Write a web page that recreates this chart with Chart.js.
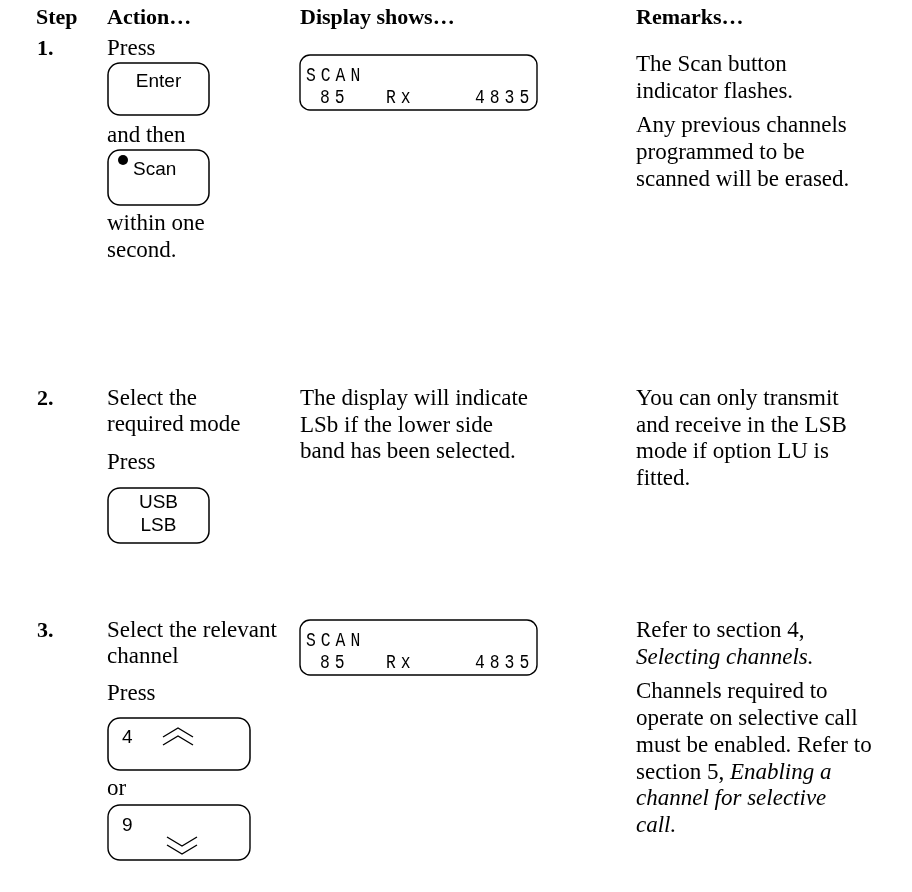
<!DOCTYPE html>
<html>
<head>
<meta charset="utf-8">
<script src="https://cdn.jsdelivr.net/npm/chart.js@4.4.1/dist/chart.umd.min.js"></script>
<style>
  html, body { margin: 0; padding: 0; background: #fff; }
  #wrap { width: 912px; height: 892px; }
</style>
</head>
<body>
<div id="wrap"><canvas id="page" width="912" height="892"></canvas></div>
<script>
// column headings and step numbers
const headers = ['Step', 'Action\u2026', 'Display shows\u2026', 'Remarks\u2026'];
const steps = ['1.', '2.', '3.'];

// text per step, one entry per line; runs are [text, style]
const actionText = [
  ['Press', 'and then', 'within one', 'second.'],
  ['Select the', 'required mode', 'Press'],
  ['Select the relevant', 'channel', 'Press', 'or']
];
const displayText = [
  [],
  ['The display will indicate', 'LSb if the lower side', 'band has been selected.'],
  []
];
const remarkText = [
  [[['The Scan button', 'n']], [['indicator flashes.', 'n']], null,
   [['Any previous channels', 'n']], [['programmed to be', 'n']], [['scanned will be erased.', 'n']]],
  [[['You can only transmit', 'n']], [['and receive in the LSB', 'n']],
   [['mode if option LU is', 'n']], [['fitted.', 'n']]],
  [[['Refer to section 4,', 'n']], [['Selecting channels.', 'i']], null,
   [['Channels required to', 'n']], [['operate on selective call', 'n']],
   [['must be enabled. Refer to', 'n']], [['section 5, ', 'n'], ['Enabling a', 'i']],
   [['channel for selective', 'i']], [['call.', 'i']]]
];

// keys shown in the Action column
const keyLabels = [['Enter'], ['Scan'], ['USB', 'LSB'], ['4'], ['9']];
// LCD readout
const lcdTop = 'SCAN';
const lcdBottom = ['85', 'Rx', '4835'];

const SERIF = '"Liberation Serif", "Times New Roman", serif';
const SANS = '"Liberation Sans", Arial, sans-serif';
const BODY = '23px ' + SERIF;
const LH = 26.7;

function roundRect(ctx, x, y, w, h, r) {
  ctx.beginPath();
  ctx.moveTo(x + r, y);
  ctx.arcTo(x + w, y, x + w, y + h, r);
  ctx.arcTo(x + w, y + h, x, y + h, r);
  ctx.arcTo(x, y + h, x, y, r);
  ctx.arcTo(x, y, x + w, y, r);
  ctx.closePath();
  ctx.stroke();
}

function runs(ctx, line, x, y) {
  line.forEach(([t, s]) => {
    ctx.font = (s === 'i' ? 'italic ' : '') + BODY;
    ctx.fillText(t, x, y);
    x += ctx.measureText(t).width;
  });
}

function lcd(ctx, x, y) {
  ctx.lineWidth = 1.4;
  roundRect(ctx, x, y, 237, 55, 10);
  ctx.font = '21px "Liberation Mono", "DejaVu Sans Mono", monospace';
  const put = (s, cx, cy) => {
    [...s].forEach((c, i) => {
      ctx.save();
      ctx.translate(cx + i * 14.8, cy);
      ctx.scale(0.78, 1);
      ctx.fillText(c, 0, 0);
      ctx.restore();
    });
  };
  put(lcdTop, x + 6, y + 26);
  put(lcdBottom[0], x + 20, y + 48);
  put(lcdBottom[1], x + 86, y + 48);
  put(lcdBottom[2], x + 175, y + 48);
}

// double chevron, apex up or down
function chevrons(ctx, cx, cy, up) {
  ctx.lineWidth = 1.4;
  const d = up ? 1 : -1;
  [-4, 4].forEach(o => {
    const yy = cy + o;
    ctx.beginPath();
    ctx.moveTo(cx - 15, yy + d * 5);
    ctx.lineTo(cx, yy - d * 4);
    ctx.lineTo(cx + 15, yy + d * 5);
    ctx.stroke();
  });
}

const pagePlugin = {
  id: 'page',
  afterDraw(chart) {
    const ctx = chart.ctx;
    const X = v => chart.scales.x.getPixelForValue(v);
    const Y = v => chart.scales.y.getPixelForValue(v);
    ctx.save();
    ctx.fillStyle = '#000';
    ctx.strokeStyle = '#000';
    ctx.textBaseline = 'alphabetic';

    // headings
    ctx.font = 'bold 22px ' + SERIF;
    [36, 107, 300, 636].forEach((cx, i) => ctx.fillText(headers[i], X(cx), Y(24)));

    // step numbers
    [55, 405, 637].forEach((by, i) => ctx.fillText(steps[i], X(37), Y(by)));

    ctx.font = BODY;
    // step 1 action
    const a1 = [55, 142, 230, 257];
    actionText[0].forEach((t, i) => ctx.fillText(t, X(107), Y(a1[i])));
    // step 2 action
    [405, 431, 469].forEach((by, i) => ctx.fillText(actionText[1][i], X(107), Y(by)));
    // step 3 action
    [637, 663, 700, 795].forEach((by, i) => ctx.fillText(actionText[2][i], X(107), Y(by)));

    // display column text (step 2)
    displayText[1].forEach((t, i) => ctx.fillText(t, X(300), Y(405 + i * LH)));

    // remarks
    const rStart = [71, 405, 637];
    remarkText.forEach((lines, s) => {
      let y = rStart[s];
      lines.forEach(line => {
        if (line === null) { y += 8; return; }
        runs(ctx, line, X(636), Y(y));
        y += LH;
      });
    });

    // keys
    ctx.lineWidth = 1.5;
    ctx.font = '19px ' + SANS;
    roundRect(ctx, X(108), Y(63), 101, 52, 12);
    ctx.textAlign = 'center';
    ctx.fillText(keyLabels[0][0], X(158.5), Y(87));

    roundRect(ctx, X(108), Y(150), 101, 55, 12);
    ctx.beginPath(); ctx.arc(X(123), Y(160), 5, 0, Math.PI * 2); ctx.fill();
    ctx.textAlign = 'left';
    ctx.fillText(keyLabels[1][0], X(133), Y(175));

    roundRect(ctx, X(108), Y(488), 101, 55, 12);
    ctx.textAlign = 'center';
    ctx.fillText(keyLabels[2][0], X(158.5), Y(508));
    ctx.fillText(keyLabels[2][1], X(158.5), Y(531));

    ctx.textAlign = 'left';
    roundRect(ctx, X(108), Y(718), 142, 52, 12);
    ctx.fillText(keyLabels[3][0], X(122), Y(743));
    chevrons(ctx, X(178), Y(736), true);

    roundRect(ctx, X(108), Y(805), 142, 55, 12);
    ctx.fillText(keyLabels[4][0], X(122), Y(831));
    chevrons(ctx, X(182), Y(846), false);

    // LCD readouts
    lcd(ctx, X(300), Y(55));
    lcd(ctx, X(300), Y(620));

    ctx.restore();
  }
};

new Chart(document.getElementById('page'), {
  type: 'scatter',
  data: { datasets: [] },
  options: {
    responsive: false,
    animation: false,
    layout: { padding: 0 },
    plugins: { legend: { display: false }, tooltip: { enabled: false } },
    scales: {
      x: { display: false, min: 0, max: 912 },
      y: { display: false, min: 0, max: 892, reverse: true }
    }
  },
  plugins: [pagePlugin]
});
</script>
</body>
</html>
